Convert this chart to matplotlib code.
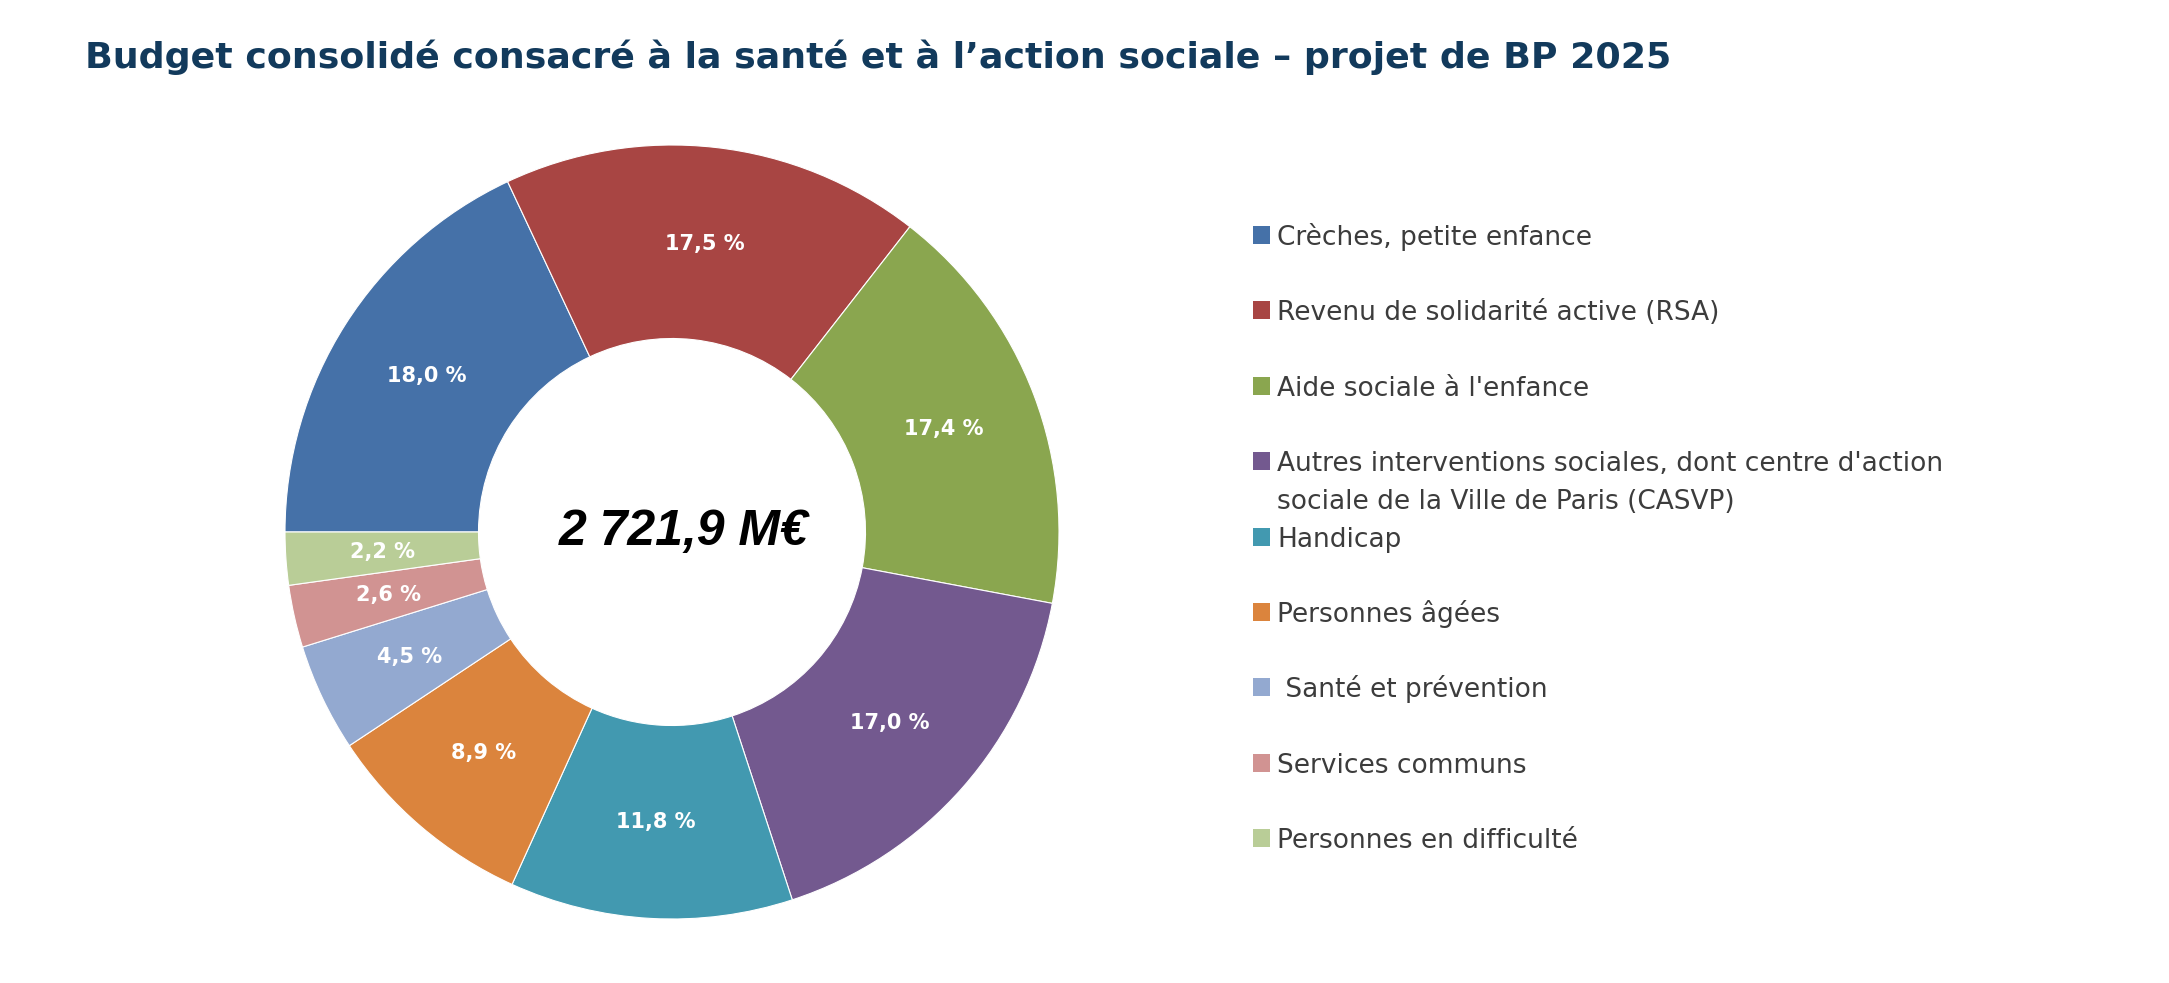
import matplotlib.pyplot as plt
from matplotlib.patches import Rectangle

categories = [
    "Crèches, petite enfance",
    "Revenu de solidarité active (RSA)",
    "Aide sociale à l'enfance",
    "Autres interventions sociales, dont centre d'action\nsociale de la Ville de Paris (CASVP)",
    "Handicap",
    "Personnes âgées",
    " Santé et prévention",
    "Services communs",
    "Personnes en difficulté",
]
shares = [18.0, 17.5, 17.4, 17.0, 11.8, 8.9, 4.5, 2.6, 2.2]
colors = ["#4571A8", "#A84543", "#8AA64F", "#73598F", "#4299B0",
          "#DB843D", "#93A9D0", "#D19392", "#B9CD97"]
total_label = "2 721,9 M€"
title = "Budget consolidé consacré à la santé et à l’action sociale – projet de BP 2025"

W, H = 2169, 983
fig = plt.figure(figsize=(W / 100, H / 100), dpi=100)

# donut
cx, cy, r = 672, 532, 387
ax = fig.add_axes([(cx - r) / W, (H - cy - r) / H, 2 * r / W, 2 * r / H])
wedges, _, autotexts = ax.pie(
    shares, colors=colors, startangle=180, counterclock=False, radius=1,
    wedgeprops=dict(width=0.5, edgecolor="white", linewidth=0.8),
    autopct=lambda p: f"{p:.1f}".replace(".", ",") + " %",
    pctdistance=0.75,
    textprops=dict(color="white", fontsize=15, fontweight="bold"),
)
ax.set_xlim(-1, 1)
ax.set_ylim(-1, 1)
ax.text(0.03, 0, total_label, ha="center", va="center", fontsize=36,
        fontweight="bold", fontstyle="italic", family="Liberation Sans",
        color="black")

# title
fig.text(85 / W, 1 - 68 / H, title, ha="left", va="baseline", fontsize=26.2,
         fontweight="bold", color="#123A5C")

# legend (manual, one line of text at a time)
y0, step, line_h = 235, 75.4, 38
for i, (lab, col) in enumerate(zip(categories, colors)):
    y = y0 + i * step
    fig.add_artist(Rectangle((1253 / W, 1 - (y + 9) / H), 17 / W, 18 / H,
                             transform=fig.transFigure, facecolor=col,
                             edgecolor="none"))
    for k, line in enumerate(lab.split("\n")):
        fig.text(1277 / W, 1 - (y + 10 + k * line_h) / H, line, ha="left",
                 va="baseline", fontsize=19, color="#3C3C3C")

fig.savefig("out.png", dpi=100, facecolor="white")
